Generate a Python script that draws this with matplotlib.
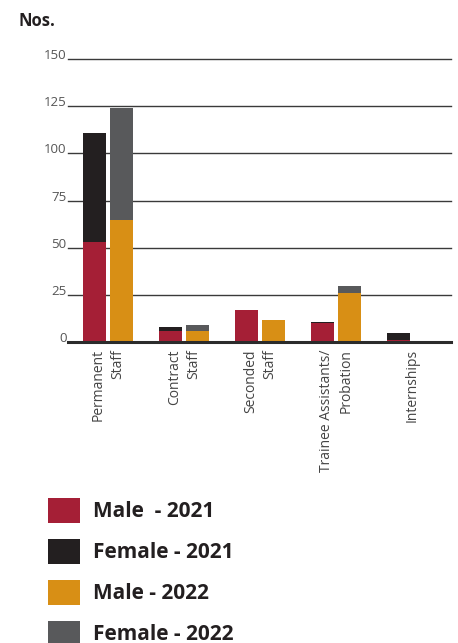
import numpy as np
import matplotlib.pyplot as plt
from matplotlib.patches import Patch

plt.rcParams['font.family'] = ['Open Sans', 'DejaVu Sans']

# data
categories = ['Permanent\nStaff', 'Contract\nStaff', 'Seconded\nStaff',
              'Trainee Assistants/\nProbation', 'Internships']
male_2021 = [53, 6, 17, 10, 1]
female_2021 = [58, 2, 0, 1, 4]
male_2022 = [65, 6, 12, 26, 0]
female_2022 = [59, 3, 0, 4, 0]

series_labels = ['Male  - 2021', 'Female - 2021', 'Male - 2022', 'Female - 2022']
colors = ['#A51F36', '#231F20', '#D88F15', '#58595B']
yticks = [0, 25, 50, 75, 100, 125, 150]

fig = plt.figure(figsize=(4.58, 6.43), dpi=100)
ax = fig.add_axes([68 / 458, 1 - 342.3 / 643, (451 - 68) / 458, (342.3 - 59) / 643])

x = np.arange(len(categories))
w = 0.30
off = 0.178

ax.bar(x - off, male_2021, w, color=colors[0], zorder=3)
ax.bar(x - off, female_2021, w, bottom=male_2021, color=colors[1], zorder=3)
ax.bar(x + off, male_2022, w, color=colors[2], zorder=3)
ax.bar(x + off, female_2022, w, bottom=male_2022, color=colors[3], zorder=3)

for v in yticks[1:]:
    ax.axhline(v, color='#3a3a3a', lw=1.0, zorder=1, clip_on=False)
ax.axhline(0, color='#2b2b2b', lw=2.2, zorder=4, clip_on=False)

ax.set_xlim(-0.526, 4.513)
ax.set_ylim(0, 150)
for s in ax.spines.values():
    s.set_visible(False)

ax.set_yticks(yticks)
ax.set_yticklabels([str(t) for t in yticks], fontsize=9.5, color='#555555')
for lbl in ax.get_yticklabels():
    lbl.set_verticalalignment('baseline')
ax.tick_params(axis='y', length=0, pad=1)

ax.set_xticks(x)
ax.set_xticklabels(categories, rotation=90, fontsize=10, color='#444444',
                   va='top', ha='center', multialignment='right', linespacing=1.4)
ax.tick_params(axis='x', length=0, pad=5)

fig.text(18 / 458, 1 - 12 / 643, 'Nos.', fontsize=12, fontweight='bold',
         color='#231F20', va='top', ha='left')

handles = [Patch(facecolor=c, edgecolor='none') for c in colors]
fig.legend(handles, series_labels, loc='upper left',
           bbox_to_anchor=(48 / 458, 1 - 498 / 643), frameon=False,
           prop={'size': 15, 'weight': 'bold'}, labelcolor='#231F20',
           handlelength=1.54, handleheight=1.45, handletextpad=0.6,
           labelspacing=0.78, borderpad=0, borderaxespad=0)

fig.savefig('out.png', dpi=100)
